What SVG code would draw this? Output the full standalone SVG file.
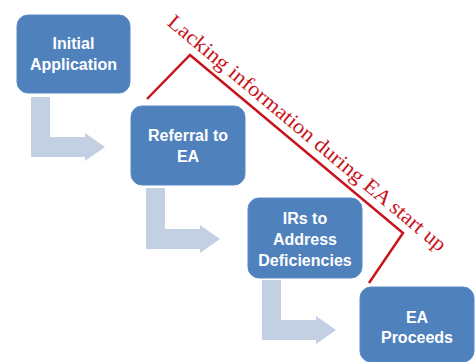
<svg xmlns="http://www.w3.org/2000/svg" width="475" height="362" viewBox="0 0 475 362">
  <style>
    .box { fill: #4f81bd; stroke: #5a8ac4; stroke-width: 1; }
    .label { fill: #ffffff; font-family: "Liberation Sans", Arial, sans-serif; font-weight: bold; font-size: 16px; text-anchor: middle; }
    .flow { fill: #c3cfe3; stroke: none; }
    .bracket { fill: none; stroke: #c8141c; stroke-width: 2.5; stroke-linejoin: miter; }
    .note { fill: #c8141c; font-family: "Liberation Serif", "Times New Roman", serif; font-size: 21px; }
  </style>
  <rect width="475" height="362" fill="#ffffff"/>

  <!-- bent flow arrows between steps -->
  <g id="connectors">
    <path class="flow" d="M31,97 H50 V137 H85 V133 L105,147 L85,161 V157 H31 Z"/>
    <path class="flow" d="M146,188 H165 V229 H200 V225 L220,239 L200,253 V249 H146 Z"/>
    <path class="flow" d="M262,280 H281 V320 H316 V316 L336,330 L316,344 V340 H262 Z"/>
  </g>

  <g id="initial-application">
    <rect class="box" x="17" y="15" width="113" height="78" rx="11"/>
    <text class="label" x="73.5" y="49">Initial</text>
    <text class="label" x="73.5" y="70">Application</text>
  </g>

  <g id="referral-to-ea">
    <rect class="box" x="131" y="106" width="114" height="79" rx="11"/>
    <text class="label" x="188" y="141">Referral to</text>
    <text class="label" x="188" y="162">EA</text>
  </g>

  <g id="irs-to-address-deficiencies">
    <rect class="box" x="248" y="198" width="114" height="80" rx="11"/>
    <text class="label" x="305" y="224">IRs to</text>
    <text class="label" x="305" y="245">Address</text>
    <text class="label" x="305" y="266">Deficiencies</text>
  </g>

  <g id="ea-proceeds">
    <rect class="box" x="360" y="287" width="114" height="75" rx="11"/>
    <text class="label" x="417" y="323">EA</text>
    <text class="label" x="417" y="343">Proceeds</text>
  </g>

  <!-- bracket marking the start-up phase -->
  <g id="start-up-bracket">
    <polyline class="bracket" points="147,99 190,55 403,233 369,283"/>
    <text class="note" transform="translate(166.3,24.2) rotate(39.9)" x="0" y="0" textLength="356" lengthAdjust="spacingAndGlyphs">Lacking information during EA start up</text>
  </g>
</svg>
